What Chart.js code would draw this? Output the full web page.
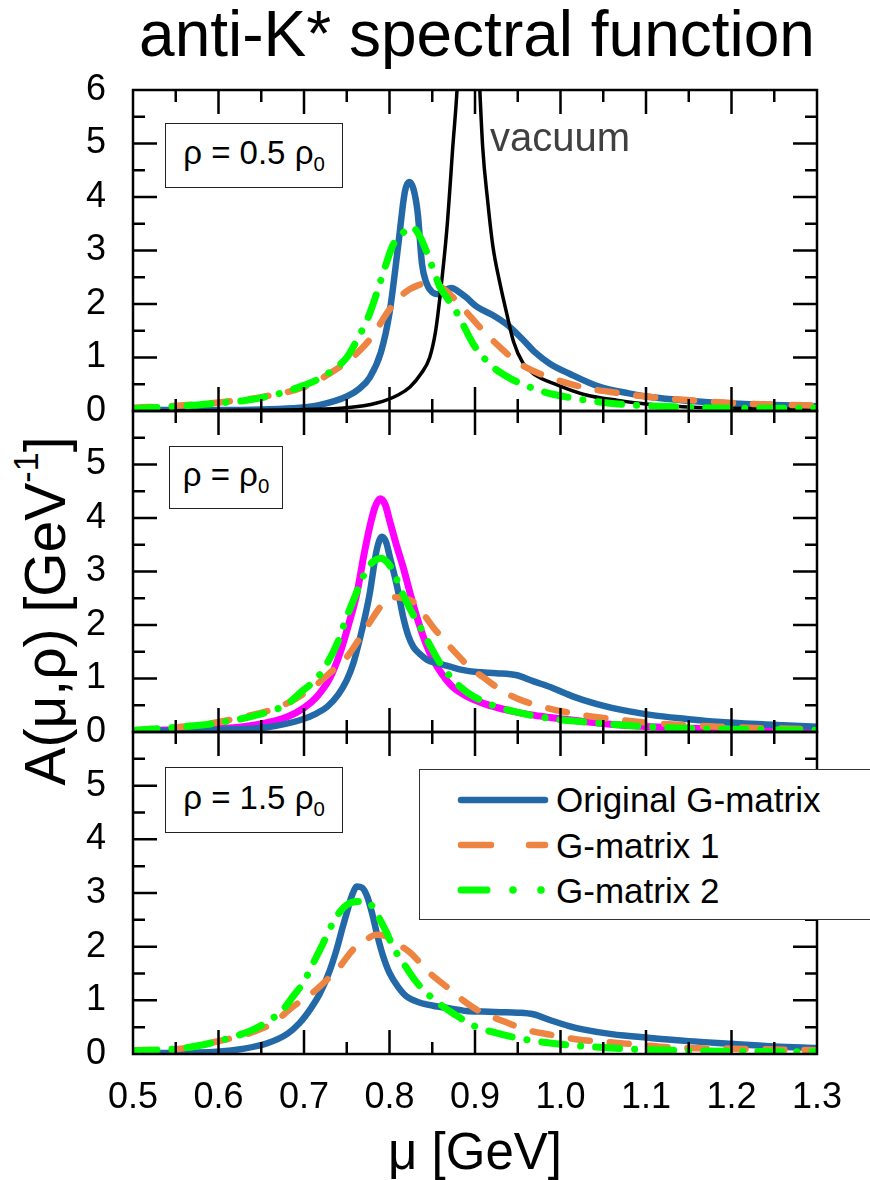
<!DOCTYPE html>
<html><head><meta charset="utf-8">
<script src="https://cdn.jsdelivr.net/npm/chart.js@4.4.0/dist/chart.umd.min.js"></script>
<style>
html,body{margin:0;padding:0;background:#fff;}
body{width:870px;height:1180px;overflow:hidden;position:relative;font-family:"Liberation Sans",Arial,Helvetica,sans-serif;color:#000;}
.pane{position:absolute;left:0;width:870px;}
.txt{position:absolute;white-space:nowrap;}
.box{position:absolute;border:1.5px solid #222;background:#fff;display:flex;align-items:center;justify-content:center;font-size:33px;box-sizing:border-box;}
.box sub{font-size:0.62em;vertical-align:-0.35em;}
</style></head><body>

<div class="txt" style="left:42px;width:870px;top:2px;font-size:64px;line-height:64px;text-align:center;">anti-K* spectral function</div>
<div class="txt" style="left:-205px;top:581px;width:500px;height:60px;font-size:57px;line-height:60px;text-align:center;transform:rotate(-90deg);">A(μ,ρ) [GeV<sup style="font-size:0.6em;vertical-align:0.8em;line-height:0">-1</sup>]</div>
<div class="txt" style="left:225px;width:500px;top:1127px;font-size:51px;line-height:50px;text-align:center;">μ [GeV]</div>

<div class="pane" id="p1" style="top:65px;height:371px;"><canvas id="c1"></canvas></div>
<div class="pane" id="p2" style="top:386px;height:371px;"><canvas id="c2"></canvas></div>
<div class="pane" id="p3" style="top:707px;height:417px;"><canvas id="c3"></canvas></div>

<div class="box" style="left:165px;top:123px;width:178px;height:65px;"><span>ρ = 0.5 ρ<sub>0</sub></span></div>
<div class="box" style="left:169px;top:446px;width:114px;height:63px;"><span>ρ = ρ<sub>0</sub></span></div>
<div class="box" style="left:165px;top:767px;width:178px;height:66px;"><span>ρ = 1.5 ρ<sub>0</sub></span></div>
<div class="txt" style="left:490px;top:117px;font-size:40px;line-height:40px;color:#404040;">vacuum</div>

<div style="position:absolute;left:419px;top:769px;width:480px;height:151px;border:1.5px solid #333;background:#fff;box-sizing:border-box;"></div>
<svg style="position:absolute;left:0;top:0;" width="870" height="1180" id="legsvg">
  <line x1="461" y1="800" x2="545" y2="800" stroke="#2369a8" stroke-width="6.5" stroke-linecap="round"/>
  <line x1="461" y1="845" x2="491" y2="845" stroke="#ed8442" stroke-width="6.5" stroke-linecap="round"/>
  <line x1="529" y1="845" x2="545" y2="845" stroke="#ed8442" stroke-width="6.5" stroke-linecap="round"/>
  <line x1="461" y1="890" x2="487" y2="890" stroke="#00ff00" stroke-width="7" stroke-linecap="round"/>
  <circle cx="513" cy="890" r="3.8" fill="#00ff00"/>
  <circle cx="541" cy="890" r="3.8" fill="#00ff00"/>
</svg>
<div class="txt" style="left:556px;top:782px;font-size:35px;line-height:35px;">Original G-matrix</div>
<div class="txt" style="left:556px;top:828px;font-size:35px;line-height:35px;">G-matrix 1</div>
<div class="txt" style="left:556px;top:873px;font-size:35px;line-height:35px;">G-matrix 2</div>

<script>
// ---------- tick labels ----------
const xTickLabels = ['0.5','0.6','0.7','0.8','0.9','1.0','1.1','1.2','1.3'];
const yTickLabelsTop = ['0','1','2','3','4','5','6'];
const yTickLabelsLower = ['0','1','2','3','4','5'];
const seriesNames = ['Original G-matrix','G-matrix 1','G-matrix 2'];

// ---------- rho = 0.5 rho0 ----------
const half_original = [[0.5,0.02],[0.6,0.02],[0.65,0.03],[0.695,0.06],[0.72,0.12],[0.75,0.27],[0.765,0.42],[0.777,0.63],[0.79,1.1],[0.80,1.83],[0.81,3.07],[0.818,4.1],[0.823,4.28],[0.828,4.15],[0.833,3.7],[0.838,2.75],[0.843,2.4],[0.85,2.22],[0.858,2.18],[0.866,2.27],[0.873,2.3],[0.88,2.24],[0.89,2.12],[0.902,1.95],[0.92,1.8],[0.937,1.62],[0.955,1.35],[0.97,1.1],[0.988,0.88],[1.01,0.7],[1.046,0.45],[1.08,0.33],[1.105,0.26],[1.15,0.19],[1.2,0.14],[1.25,0.11],[1.3,0.09]];
const half_g1 = [[0.5,0.06],[0.55,0.1],[0.6,0.16],[0.65,0.26],[0.7,0.45],[0.73,0.7],[0.762,1.08],[0.78,1.4],[0.797,1.83],[0.81,2.1],[0.824,2.28],[0.835,2.36],[0.845,2.41],[0.86,2.32],[0.874,2.13],[0.89,1.85],[0.909,1.51],[0.93,1.18],[0.949,0.92],[0.975,0.7],[1.008,0.52],[1.04,0.4],[1.066,0.34],[1.1,0.27],[1.143,0.21],[1.2,0.15],[1.25,0.12],[1.3,0.1]];
const half_g2 = [[0.5,0.04],[0.563,0.1],[0.6,0.15],[0.633,0.2],[0.665,0.3],[0.695,0.45],[0.715,0.58],[0.734,0.77],[0.75,1.0],[0.762,1.33],[0.775,1.75],[0.785,2.2],[0.795,2.7],[0.804,3.1],[0.815,3.32],[0.826,3.44],[0.836,3.25],[0.847,2.82],[0.859,2.32],[0.87,2.05],[0.879,1.83],[0.898,1.25],[0.91,1.0],[0.921,0.82],[0.94,0.62],[0.956,0.5],[0.98,0.36],[1.008,0.26],[1.05,0.16],[1.085,0.11],[1.15,0.07],[1.2,0.05],[1.3,0.05]];
const vacuum = [[0.5,0],[0.6,0.01],[0.7,0.03],[0.75,0.06],[0.785,0.15],[0.81,0.3],[0.824,0.45],[0.837,0.7],[0.847,1.0],[0.854,1.5],[0.859,2.13],[0.867,3.38],[0.874,4.93],[0.88,6.3],[0.886,9],[0.892,11],[0.898,9],[0.904,6.6],[0.909,4.93],[0.915,3.9],[0.921,3.07],[0.929,2.4],[0.937,1.83],[0.945,1.3],[0.956,0.9],[0.968,0.7],[0.996,0.49],[1.03,0.3],[1.066,0.2],[1.1,0.13],[1.143,0.08],[1.2,0.05],[1.3,0.03]];

// ---------- rho = rho0 ----------
const one_original = [[0.5,0.02],[0.6,0.04],[0.657,0.09],[0.695,0.22],[0.715,0.35],[0.727,0.47],[0.74,0.7],[0.75,0.97],[0.758,1.3],[0.765,1.72],[0.772,2.2],[0.777,2.6],[0.785,3.4],[0.791,3.65],[0.796,3.55],[0.8,3.3],[0.809,2.71],[0.816,2.15],[0.822,1.8],[0.828,1.59],[0.836,1.45],[0.844,1.35],[0.858,1.28],[0.871,1.22],[0.885,1.16],[0.902,1.12],[0.925,1.1],[0.949,1.06],[0.968,0.95],[0.988,0.84],[1.006,0.72],[1.026,0.6],[1.06,0.45],[1.105,0.32],[1.15,0.24],[1.183,0.19],[1.24,0.14],[1.3,0.1]];
const one_g1 = [[0.5,0.03],[0.578,0.13],[0.62,0.25],[0.668,0.45],[0.69,0.62],[0.711,0.84],[0.73,1.1],[0.75,1.4],[0.769,1.85],[0.781,2.15],[0.79,2.35],[0.804,2.52],[0.816,2.5],[0.828,2.43],[0.84,2.2],[0.851,1.96],[0.866,1.68],[0.882,1.4],[0.894,1.2],[0.909,1.03],[0.929,0.8],[0.95,0.62],[0.979,0.47],[1.01,0.36],[1.046,0.27],[1.105,0.17],[1.183,0.1],[1.24,0.07],[1.3,0.05]];
const one_g2 = [[0.5,0.03],[0.559,0.1],[0.6,0.17],[0.657,0.37],[0.68,0.52],[0.699,0.78],[0.715,1.0],[0.727,1.28],[0.74,1.7],[0.75,2.15],[0.76,2.55],[0.769,2.9],[0.776,3.1],[0.783,3.21],[0.79,3.25],[0.797,3.18],[0.805,2.98],[0.812,2.71],[0.824,2.3],[0.836,1.96],[0.848,1.6],[0.859,1.29],[0.874,0.98],[0.89,0.75],[0.91,0.57],[0.93,0.45],[0.949,0.37],[0.98,0.27],[1.026,0.19],[1.08,0.12],[1.143,0.07],[1.2,0.05],[1.3,0.03]];
const one_magenta = [[0.5,0.02],[0.55,0.04],[0.617,0.08],[0.65,0.15],[0.68,0.28],[0.7,0.45],[0.715,0.66],[0.73,1.0],[0.742,1.47],[0.752,2.0],[0.762,2.6],[0.77,3.3],[0.777,3.84],[0.783,4.2],[0.789,4.36],[0.795,4.25],[0.8,3.96],[0.808,3.5],[0.816,3.08],[0.824,2.6],[0.832,2.15],[0.841,1.72],[0.851,1.35],[0.862,1.07],[0.874,0.84],[0.89,0.67],[0.909,0.54],[0.94,0.4],[0.97,0.31],[0.988,0.27],[1.03,0.19],[1.07,0.13],[1.105,0.1],[1.2,0.05],[1.3,0.03]];

// ---------- rho = 1.5 rho0 ----------
const onehalf_original = [[0.5,0.02],[0.55,0.02],[0.598,0.04],[0.63,0.1],[0.657,0.2],[0.68,0.37],[0.695,0.58],[0.708,0.85],[0.719,1.14],[0.73,1.55],[0.738,1.94],[0.745,2.35],[0.75,2.63],[0.756,2.95],[0.762,3.12],[0.768,3.1],[0.774,2.93],[0.78,2.6],[0.785,2.26],[0.792,1.85],[0.8,1.51],[0.81,1.25],[0.82,1.07],[0.835,0.96],[0.851,0.9],[0.871,0.85],[0.89,0.8],[0.909,0.79],[0.93,0.78],[0.95,0.77],[0.968,0.74],[0.99,0.62],[1.01,0.52],[1.026,0.46],[1.06,0.37],[1.105,0.3],[1.15,0.24],[1.2,0.19],[1.25,0.14],[1.3,0.11]];
const onehalf_g1 = [[0.5,0.07],[0.55,0.09],[0.6,0.24],[0.637,0.39],[0.664,0.58],[0.687,0.88],[0.71,1.14],[0.728,1.4],[0.742,1.63],[0.757,1.94],[0.77,2.1],[0.785,2.22],[0.795,2.2],[0.804,2.1],[0.824,1.89],[0.847,1.51],[0.867,1.25],[0.886,1.0],[0.906,0.79],[0.935,0.6],[0.96,0.45],[0.988,0.36],[1.02,0.27],[1.058,0.22],[1.093,0.17],[1.13,0.12],[1.2,0.1],[1.3,0.07]];
const onehalf_g2 = [[0.5,0.06],[0.559,0.11],[0.59,0.2],[0.617,0.32],[0.64,0.45],[0.657,0.6],[0.675,0.82],[0.687,1.07],[0.7,1.35],[0.711,1.7],[0.722,2.05],[0.734,2.45],[0.742,2.65],[0.75,2.78],[0.762,2.84],[0.774,2.84],[0.782,2.7],[0.789,2.5],[0.797,2.25],[0.804,2.0],[0.818,1.65],[0.832,1.33],[0.848,1.07],[0.863,0.88],[0.877,0.73],[0.89,0.6],[0.902,0.5],[0.918,0.42],[0.949,0.3],[0.98,0.22],[1.008,0.17],[1.06,0.11],[1.105,0.08],[1.2,0.05],[1.3,0.04]];

// ---------- styling ----------
const BLUE = '#2369a8', ORANGE = '#ed8442', GREEN = '#00ff00', MAGENTA = '#ff00ff', BLACK = '#000000';
const FONT = '"Liberation Sans", Arial, Helvetica, sans-serif';

function toXY(a){ return a.map(p => ({x:p[0], y:p[1]})); }
function ds(label, arr, style){
  return Object.assign({label, data: toXY(arr), pointRadius:0, pointHoverRadius:0, fill:false,
    cubicInterpolationMode:'monotone', borderJoinStyle:'round', borderCapStyle:'round'}, style);
}
const sBlue = {borderColor:BLUE, borderWidth:6.5};
const sOrange = {borderColor:ORANGE, borderWidth:6.5, borderDash:[19,20]};
const sGreen = {borderColor:GREEN, borderWidth:7, borderDash:[24,15,0.1,15]};
const sMag = {borderColor:MAGENTA, borderWidth:7};
const sBlack = {borderColor:BLACK, borderWidth:3.5};

const framePlugin = {
  id:'frameTicks',
  afterDatasetsDraw(chart){
    const {ctx, chartArea:a, scales:{x, y}} = chart;
    ctx.save();
    ctx.strokeStyle = '#000'; ctx.lineWidth = 2.5; ctx.lineCap = 'butt';
    ctx.beginPath();
    for (let i = 1; i < 16; i++){
      const px = x.getPixelForValue(0.5 + i*0.05);
      const L = (i % 2 === 0) ? 24 : 12;
      ctx.moveTo(px, a.top); ctx.lineTo(px, a.top + L);
      ctx.moveTo(px, a.bottom); ctx.lineTo(px, a.bottom - L);
    }
    for (let j = 1; j < 12; j++){
      const py = y.getPixelForValue(j*0.5);
      const L = (j % 2 === 0) ? 24 : 12;
      ctx.moveTo(a.left, py); ctx.lineTo(a.left + L, py);
      ctx.moveTo(a.right, py); ctx.lineTo(a.right - L, py);
    }
    ctx.stroke();
    ctx.strokeRect(a.left, a.top, a.right - a.left, a.bottom - a.top);
    ctx.restore();
  }
};

function makeChart(id, datasets, yLabels, showX){
  return new Chart(document.getElementById(id), {
    type:'line',
    data:{datasets},
    options:{
      responsive:true, maintainAspectRatio:false, animation:false,
      layout:{padding:{top:25, right:53, bottom: showX ? 0 : 25, left:0}},
      plugins:{legend:{display:false}, tooltip:{enabled:false}},
      events:[],
      scales:{
        x:{type:'linear', min:0.5, max:1.3, display: showX,
           grid:{display:false, drawTicks:false, tickLength:0}, border:{display:false},
           ticks:{stepSize:0.1, autoSkip:false, maxRotation:0, minRotation:0, padding:22,
                  color:'#000', font:{family:FONT, size:36},
                  callback:(v,i)=> xTickLabels[i]},
           afterFit:(s)=>{ s.height = showX ? 70 : 0; s.paddingLeft = 0; s.paddingRight = 0; }},
        y:{type:'linear', min:0, max:6,
           grid:{display:false, drawTicks:false, tickLength:0}, border:{display:false},
           ticks:{stepSize:1, autoSkip:false, padding:27, color:'#000', font:{family:FONT, size:36},
                  callback:(v,i)=> (i < yLabels.length ? yLabels[i] : '')},
           afterFit:(s)=>{ s.width = 133; s.paddingTop = 0; s.paddingBottom = 0; }}
      }
    },
    plugins:[framePlugin]
  });
}

makeChart('c1', [
  ds(seriesNames[2], half_g2, sGreen),
  ds(seriesNames[1], half_g1, sOrange),
  ds('vacuum', vacuum, sBlack),
  ds(seriesNames[0], half_original, sBlue)
], yTickLabelsTop, false);

makeChart('c2', [
  ds(seriesNames[2], one_g2, sGreen),
  ds(seriesNames[1], one_g1, sOrange),
  ds(seriesNames[0], one_original, sBlue),
  ds('magenta', one_magenta, sMag)
], yTickLabelsLower, false);

makeChart('c3', [
  ds(seriesNames[2], onehalf_g2, sGreen),
  ds(seriesNames[1], onehalf_g1, sOrange),
  ds(seriesNames[0], onehalf_original, sBlue)
], yTickLabelsLower, true);
</script>
</body></html>
